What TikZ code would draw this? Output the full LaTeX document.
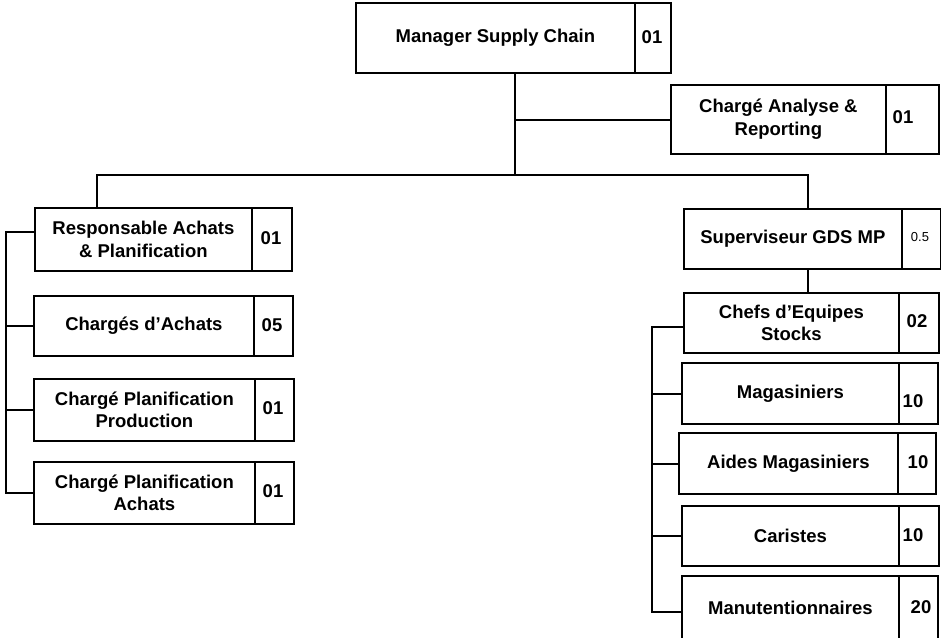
\documentclass[tikz,border=0pt]{standalone}
\usepackage{fontspec}
\setmainfont{Liberation Sans}
\newcommand\lblfont{\fontsize{18.5}{22.5}\selectfont\bfseries}
\begin{document}
\begin{tikzpicture}[x=1pt,y=-1pt,
  cell/.style={draw, line width=1.8pt, inner sep=0pt, anchor=north west, align=center, font=\lblfont},
  numtxt/.style={inner sep=0pt, font=\lblfont},
  link/.style={line width=2pt}]
\useasboundingbox (0,0) rectangle (941,637);
% top
\node[cell, minimum width=279pt, minimum height=70pt] (mgr) at (355,2) {Manager Supply Chain};
\node[cell, minimum width=36pt, minimum height=70pt] (mgrC) at (634,2) {};
\node[numtxt] (mgrN) at (652,37) {01};
\node[cell, minimum width=215pt, minimum height=69pt] (ana) at (670,84) {Chargé Analyse \&\\Reporting};
\node[cell, minimum width=53pt, minimum height=69pt] (anaC) at (885,84) {};
\node[numtxt] (anaN) at (903,117) {01};
% left column
\node[cell, minimum width=217pt, minimum height=63pt] (resp) at (34,207) {Responsable Achats\\\& Planification};
\node[cell, minimum width=40pt, minimum height=63pt] (respC) at (251,207) {};
\node[numtxt] (respN) at (271,238) {01};
\node[cell, minimum width=220pt, minimum height=60pt] (chg) at (33,295) {Chargés d’Achats};
\node[cell, minimum width=39pt, minimum height=60pt] (chgC) at (253,295) {};
\node[numtxt] (chgN) at (272,325) {05};
\node[cell, minimum width=221pt, minimum height=62pt] (prod) at (33,378) {Chargé Planification\\Production};
\node[cell, minimum width=39pt, minimum height=62pt] (prodC) at (254,378) {};
\node[numtxt] (prodN) at (273,408) {01};
\node[cell, minimum width=221pt, minimum height=62pt] (ach) at (33,461) {Chargé Planification\\Achats};
\node[cell, minimum width=39pt, minimum height=62pt] (achC) at (254,461) {};
\node[numtxt] (achN) at (273,491) {01};
% right column
\node[cell, minimum width=218pt, minimum height=60pt] (sup) at (683,208) {Superviseur GDS MP};
\node[cell, minimum width=39pt, minimum height=60pt] (supC) at (901,208) {};
\node[inner sep=0pt, font=\fontsize{13}{15}\selectfont] (supN) at (920,237) {0.5};
\node[cell, minimum width=215pt, minimum height=60pt] (chef) at (683,292) {Chefs d’Equipes\\Stocks};
\node[cell, minimum width=40pt, minimum height=60pt] (chefC) at (898,292) {};
\node[numtxt] (chefN) at (917,321) {02};
\node[cell, minimum width=217pt, minimum height=61pt] (mag) at (681,362) {Magasiniers};
\node[cell, minimum width=39pt, minimum height=61pt] (magC) at (898,362) {};
\node[numtxt] (magN) at (913,401) {10};
\node[cell, minimum width=219pt, minimum height=61pt] (aid) at (678,432) {Aides Magasiniers};
\node[cell, minimum width=38pt, minimum height=61pt] (aidC) at (897,432) {};
\node[numtxt] (aidN) at (918,462) {10};
\node[cell, minimum width=217pt, minimum height=60pt] (car) at (681,505) {Caristes};
\node[cell, minimum width=40pt, minimum height=60pt] (carC) at (898,505) {};
\node[numtxt] (carN) at (913,535) {10};
\node[cell, minimum width=217pt, minimum height=64pt] (man) at (681,575) {Manutentionnaires};
\node[cell, minimum width=39pt, minimum height=64pt] (manC) at (898,575) {};
\node[numtxt] (manN) at (921,607) {20};
% connectors
\coordinate (j1) at (515,175);
\coordinate (lh) at (97,175);
\coordinate (rh) at (808,175);
\coordinate (lb) at (6,0);
\coordinate (rb) at (652,0);
\draw[link] (mgr.south -| j1) -- (j1);
\draw[link] ([yshift=-0.5pt]j1 |- ana.west) -- ([yshift=-0.5pt]ana.west);
\draw[link] (resp.north -| lh) -- (lh) -- (rh) -- (sup.north -| rh);
\draw[link] (sup.south -| rh) -- (chef.north -| rh);
\draw[link] ([yshift=7pt]resp.west) -- ([yshift=7pt]resp.west -| lb) -- (ach.west -| lb) -- (ach.west);
\draw[link] (chg.west -| lb) -- (chg.west);
\draw[link] (prod.west -| lb) -- (prod.west);
\draw[link] ([yshift=-4pt]chef.west) -- ([yshift=-4pt]chef.west -| rb) -- ([yshift=-4pt]man.west -| rb) -- ([yshift=-4pt]man.west);
\draw[link] ([yshift=-0.5pt]mag.west -| rb) -- ([yshift=-0.5pt]mag.west);
\draw[link] ([yshift=-0.5pt]aid.west -| rb) -- ([yshift=-0.5pt]aid.west);
\draw[link] (car.west -| rb) -- (car.west);
\end{tikzpicture}
\end{document}
